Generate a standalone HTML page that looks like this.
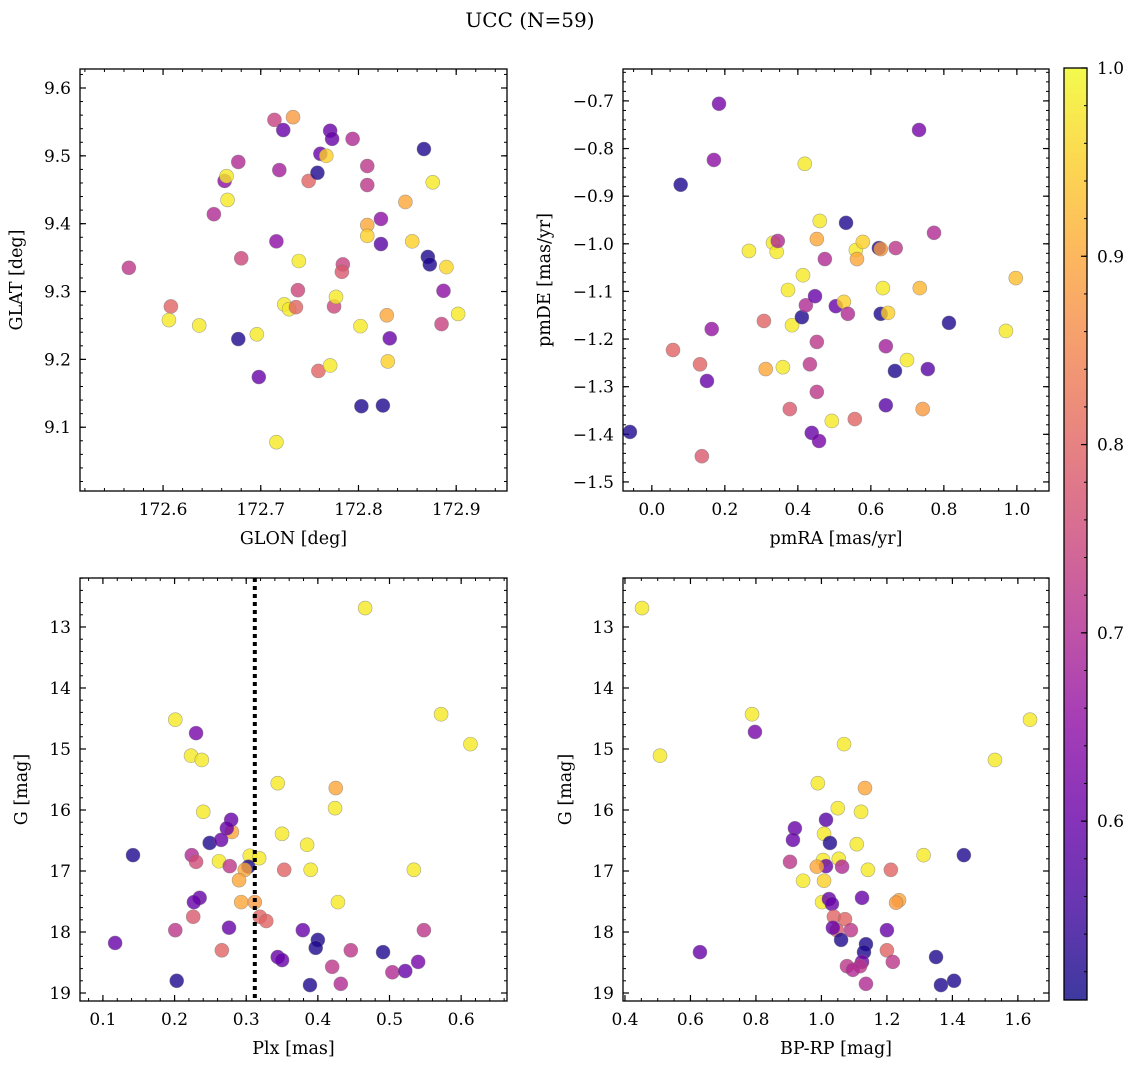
<!DOCTYPE html>
<html><head><meta charset="utf-8"><style>
html,body{margin:0;padding:0;background:#fff;}
svg{display:block;font-family:"DejaVu Serif","Liberation Serif",serif;}
</style></head><body>
<svg id="fig" width="1136" height="1068" viewBox="0 0 1136 1068" xmlns="http://www.w3.org/2000/svg">
<defs>
<linearGradient id="plasma" x1="0" y1="1" x2="0" y2="0">
<stop offset="0" stop-color="#0d0887"/><stop offset="0.1" stop-color="#41049d"/><stop offset="0.2" stop-color="#6a00a8"/><stop offset="0.3" stop-color="#8f0da4"/><stop offset="0.4" stop-color="#b12a90"/><stop offset="0.5" stop-color="#cc4778"/><stop offset="0.6" stop-color="#e16462"/><stop offset="0.7" stop-color="#f2844b"/><stop offset="0.8" stop-color="#fca636"/><stop offset="0.9" stop-color="#fcce25"/><stop offset="1" stop-color="#f0f921"/>
</linearGradient>
</defs>
<text x="530" y="27" font-size="20" text-anchor="middle">UCC (N=59)</text>
</svg>
<script>
// Panel 1: GLON / GLAT
const glon=[172.565,172.608,172.606,172.637,172.652,172.663,172.665,172.666,172.677,172.680,172.677,172.696,172.698,172.714,172.723,172.719,172.716,172.716,172.724,172.729,172.733,172.736,172.738,172.739,172.749,172.758,172.761,172.767,172.771,172.773,172.759,172.771,172.775,172.777,172.784,172.783,172.794,172.803,172.802,172.809,172.809,172.809,172.809,172.823,172.823,172.825,172.829,172.830,172.832,172.848,172.855,172.867,172.871,172.873,172.876,172.887,172.890,172.885,172.902];
const glat=[9.335,9.278,9.258,9.250,9.414,9.463,9.470,9.435,9.491,9.349,9.230,9.237,9.174,9.553,9.538,9.479,9.374,9.078,9.281,9.274,9.557,9.277,9.302,9.345,9.463,9.475,9.503,9.500,9.537,9.525,9.183,9.191,9.278,9.292,9.340,9.329,9.525,9.131,9.249,9.485,9.457,9.398,9.382,9.407,9.370,9.132,9.265,9.197,9.231,9.432,9.374,9.510,9.351,9.340,9.461,9.301,9.336,9.252,9.267];
const prob1=[0.72,0.8,0.98,0.98,0.7,0.65,0.98,0.98,0.7,0.75,0.52,0.98,0.6,0.74,0.6,0.68,0.65,0.98,0.98,0.98,0.88,0.8,0.75,0.98,0.8,0.52,0.6,0.95,0.6,0.6,0.8,0.98,0.75,0.98,0.74,0.78,0.7,0.52,0.98,0.72,0.72,0.9,0.95,0.65,0.58,0.52,0.9,0.95,0.6,0.9,0.95,0.52,0.52,0.52,0.98,0.65,0.96,0.74,0.98];
// Panel 2: pmRA / pmDE
const pmra=[-0.060,0.079,0.184,0.170,0.058,0.132,0.137,0.151,0.164,0.266,0.307,0.312,0.332,0.342,0.345,0.359,0.373,0.378,0.384,0.411,0.414,0.419,0.422,0.433,0.438,0.447,0.452,0.452,0.452,0.458,0.460,0.474,0.493,0.504,0.526,0.532,0.537,0.556,0.559,0.562,0.578,0.622,0.627,0.627,0.633,0.641,0.647,0.641,0.668,0.666,0.699,0.734,0.732,0.742,0.756,0.773,0.814,0.970,0.997];
const pmde=[-1.395,-0.876,-0.706,-0.824,-1.223,-1.253,-1.446,-1.288,-1.179,-1.015,-1.162,-1.263,-0.998,-1.017,-0.994,-1.259,-1.097,-1.347,-1.171,-1.154,-1.066,-0.832,-1.129,-1.253,-1.397,-1.110,-1.206,-1.311,-0.990,-1.414,-0.952,-1.032,-1.372,-1.131,-1.122,-0.956,-1.147,-1.368,-1.013,-1.032,-0.996,-1.009,-1.011,-1.147,-1.093,-1.215,-1.145,-1.339,-1.009,-1.267,-1.244,-1.093,-0.761,-1.347,-1.263,-0.977,-1.166,-1.183,-1.072];
const prob2=[0.52,0.52,0.62,0.65,0.8,0.8,0.78,0.6,0.66,0.98,0.8,0.9,0.98,0.98,0.7,0.98,0.98,0.78,0.98,0.52,0.98,0.98,0.7,0.72,0.6,0.6,0.72,0.72,0.9,0.62,0.98,0.7,0.98,0.6,0.95,0.52,0.7,0.8,0.98,0.9,0.95,0.52,0.88,0.52,0.98,0.68,0.95,0.58,0.72,0.52,0.98,0.92,0.62,0.88,0.58,0.7,0.52,0.98,0.93];
// Panel 3: Plx / G
const plx=[0.466,0.572,0.613,0.201,0.230,0.223,0.238,0.344,0.425,0.424,0.240,0.280,0.279,0.273,0.350,0.385,0.249,0.265,0.142,0.224,0.262,0.230,0.305,0.318,0.303,0.277,0.298,0.353,0.390,0.534,0.290,0.235,0.227,0.293,0.312,0.428,0.319,0.328,0.226,0.276,0.379,0.201,0.548,0.117,0.400,0.397,0.266,0.446,0.491,0.420,0.540,0.344,0.350,0.504,0.522,0.432,0.389,0.203];
const g3=[12.69,14.43,14.92,14.52,14.74,15.11,15.18,15.56,15.64,15.97,16.03,16.36,16.16,16.30,16.39,16.57,16.54,16.49,16.74,16.74,16.84,16.85,16.75,16.79,16.93,16.92,16.98,16.98,16.98,16.98,17.15,17.44,17.51,17.51,17.51,17.51,17.75,17.82,17.75,17.93,17.97,17.97,17.97,18.18,18.13,18.26,18.30,18.30,18.33,18.57,18.49,18.41,18.46,18.66,18.64,18.85,18.87,18.80];
const prob3=[0.98,0.98,0.98,0.98,0.62,0.98,0.98,0.98,0.9,0.98,0.98,0.9,0.6,0.6,0.98,0.98,0.52,0.6,0.52,0.7,0.98,0.76,0.98,0.98,0.52,0.72,0.9,0.8,0.98,0.98,0.9,0.6,0.6,0.9,0.88,0.98,0.8,0.8,0.78,0.6,0.6,0.72,0.72,0.6,0.52,0.52,0.8,0.72,0.52,0.72,0.62,0.6,0.6,0.7,0.6,0.7,0.52,0.52];
const plxLine=[0.312];
// Panel 4: BP-RP / G
const bprp=[0.452,0.788,0.797,1.637,0.507,1.530,1.069,0.989,1.133,1.050,1.121,1.014,0.919,1.008,1.108,1.026,0.913,1.005,1.053,1.063,1.014,0.986,0.904,1.142,1.212,1.312,1.435,0.944,1.008,1.002,1.023,1.032,1.124,1.237,1.228,1.038,1.072,1.047,1.035,1.090,1.200,1.060,1.136,1.130,1.200,0.629,1.124,1.218,1.350,1.118,1.078,1.096,1.136,1.365,1.405];
const g4=[12.69,14.43,14.72,14.52,15.11,15.18,14.92,15.56,15.64,15.97,16.03,16.16,16.30,16.39,16.56,16.54,16.49,16.82,16.80,16.93,16.92,16.93,16.85,16.98,16.98,16.74,16.74,17.16,17.16,17.51,17.46,17.54,17.44,17.48,17.52,17.75,17.79,17.97,17.93,17.97,17.97,18.13,18.20,18.33,18.30,18.33,18.49,18.49,18.41,18.56,18.56,18.62,18.85,18.87,18.80];
const prob4=[0.98,0.98,0.62,0.98,0.98,0.98,0.98,0.98,0.9,0.98,0.98,0.58,0.6,0.98,0.98,0.52,0.6,0.98,0.98,0.7,0.6,0.9,0.72,0.98,0.8,0.98,0.52,0.98,0.95,0.98,0.6,0.6,0.6,0.9,0.88,0.8,0.8,0.78,0.6,0.72,0.6,0.52,0.52,0.52,0.8,0.6,0.62,0.72,0.52,0.72,0.72,0.7,0.7,0.52,0.52];
const cbTicks=[0.6,0.7,0.8,0.9,1.0];
const cbMin=0.505, cbMax=1.0;

const NS="http://www.w3.org/2000/svg";
const svg=document.getElementById('fig');
function mk(tag,attrs,parent){const e=document.createElementNS(NS,tag);for(const k in attrs)e.setAttribute(k,attrs[k]);(parent||svg).appendChild(e);return e;}
const stops=[[0,[13,8,135]],[0.1,[65,4,157]],[0.2,[106,0,168]],[0.3,[143,13,164]],[0.4,[177,42,144]],[0.5,[204,71,120]],[0.6,[225,100,98]],[0.7,[242,132,75]],[0.8,[252,166,54]],[0.9,[252,206,37]],[1,[240,249,33]]];
function plasma(v){let t=(v-cbMin)/(cbMax-cbMin);t=Math.max(0,Math.min(1,t));for(let i=1;i<stops.length;i++){if(t<=stops[i][0]){const a=stops[i-1],b=stops[i];const f=(t-a[0])/(b[0]-a[0]);const c=a[1].map((x,j)=>Math.round(x+(b[1][j]-x)*f));return `rgb(${c[0]},${c[1]},${c[2]})`;}}return 'rgb(240,249,33)';}

function panel(cfg){
  const {x0,x1,y0,y1,xmin,xmax,ymin,ymax,invert,xMaj,xMin,yMaj,yMin,xlabel,ylabel,name,dec,ydec}=cfg;
  const g=mk('g',{});
  
  
  const sx=v=>x0+(v-xmin)/(xmax-xmin)*(x1-x0);
  const sy=v=>invert? y0+(v-ymin)/(ymax-ymin)*(y1-y0) : y1-(v-ymin)/(ymax-ymin)*(y1-y0);
  const step=(a,b,s)=>{const r=[];for(let v=Math.ceil(a/s-1e-6)*s;v<=b+1e-9;v+=s)r.push(+v.toFixed(6));return r;};
  const lo=Math.min(ymin,ymax),hi=Math.max(ymin,ymax);
  step(xmin,xmax,xMin).forEach(v=>{const X=sx(v);mk('line',{x1:X,x2:X,y1:y1,y2:y1-3,stroke:'#000','stroke-width':1},g);mk('line',{x1:X,x2:X,y1:y0,y2:y0+3,stroke:'#000','stroke-width':1},g);});
  step(lo,hi,yMin).forEach(v=>{const Y=sy(v);mk('line',{x1:x0,x2:x0+3,y1:Y,y2:Y,stroke:'#000','stroke-width':1},g);mk('line',{x1:x1,x2:x1-3,y1:Y,y2:Y,stroke:'#000','stroke-width':1},g);});
  step(xmin,xmax,xMaj).forEach(v=>{const X=sx(v);mk('line',{x1:X,x2:X,y1:y1,y2:y1-6,stroke:'#000','stroke-width':1.2},g);mk('line',{x1:X,x2:X,y1:y0,y2:y0+6,stroke:'#000','stroke-width':1.2},g);
    const t=mk('text',{x:X,y:y1+24,'font-size':17,'text-anchor':'middle'},g);t.textContent=v.toFixed(dec);
    });
  step(lo,hi,yMaj).forEach(v=>{const Y=sy(v);mk('line',{x1:x0,x2:x0+6,y1:Y,y2:Y,stroke:'#000','stroke-width':1.2},g);mk('line',{x1:x1,x2:x1-6,y1:Y,y2:Y,stroke:'#000','stroke-width':1.2},g);
    const t=mk('text',{x:x0-9,y:Y+6,'font-size':17,'text-anchor':'end'},g);t.textContent=(v<0?'\u2212':'')+Math.abs(v).toFixed(ydec);
    });
  const xl=mk('text',{x:(x0+x1)/2,y:y1+53,'font-size':17.5,'text-anchor':'middle'},g);xl.textContent=xlabel;
  
  const yx=cfg.ylx;
  const yl=mk('text',{x:yx,y:(y0+y1)/2,'font-size':17.5,'text-anchor':'middle',transform:`rotate(-90 ${yx} ${(y0+y1)/2})`},g);yl.textContent=ylabel;
  
  const pg=mk('g',{},g);
  cfg.xs.forEach((xv,i)=>{const c=mk('circle',{cx:sx(xv),cy:sy(cfg.ys[i]),r:7,fill:plasma(cfg.ps[i]),'fill-opacity':0.8,stroke:'#777','stroke-opacity':0.6,'stroke-width':0.6},pg);
    });
  if(cfg.vline){cfg.vline.forEach(v=>{const l=mk('line',{x1:sx(v),x2:sx(v),y1:y0,y2:y1,stroke:'#000','stroke-width':4,'stroke-dasharray':'4 4'},g);
    });}
  const fr=mk('rect',{x:x0,y:y0,width:x1-x0,height:y1-y0,fill:'none',stroke:'#000','stroke-width':1.3},g);
  
}
panel({name:'glon-glat-panel',x0:80,x1:507,y0:69,y1:491,xmin:172.515,xmax:172.952,ymin:9.006,ymax:9.628,xMaj:0.1,xMin:0.02,yMaj:0.1,yMin:0.02,dec:1,ydec:1,xlabel:'GLON [deg]',ylabel:'GLAT [deg]',ylx:22,xs:glon,ys:glat,ps:prob1});
panel({name:'pm-panel',x0:623,x1:1049,y0:69,y1:491,xmin:-0.079,xmax:1.088,ymin:-1.519,ymax:-0.633,xMaj:0.2,xMin:0.05,yMaj:0.1,yMin:0.02,dec:1,ydec:1,xlabel:'pmRA [mas/yr]',ylabel:'pmDE [mas/yr]',ylx:550,xs:pmra,ys:pmde,ps:prob2});
panel({name:'plx-g-panel',x0:80,x1:507,y0:578,y1:1001,xmin:0.068,xmax:0.664,ymin:12.197,ymax:19.131,invert:true,xMaj:0.1,xMin:0.02,yMaj:1,yMin:0.2,dec:1,ydec:0,xlabel:'Plx [mas]',ylabel:'G [mag]',ylx:27,xs:plx,ys:g3,ps:prob3,vline:plxLine});
panel({name:'cmd-panel',x0:623,x1:1049,y0:578,y1:1001,xmin:0.394,xmax:1.695,ymin:12.197,ymax:19.131,invert:true,xMaj:0.2,xMin:0.05,yMaj:1,yMin:0.2,dec:1,ydec:0,xlabel:'BP-RP [mag]',ylabel:'G [mag]',ylx:571,xs:bprp,ys:g4,ps:prob4});
// colorbar
const cb=mk('g',{});


const cy0=68,cy1=1000,cx0=1064,cx1=1087;
mk('rect',{x:cx0,y:cy0,width:cx1-cx0,height:cy1-cy0,fill:'url(#plasma)','fill-opacity':0.8},cb);
const cys=v=>cy1-(v-cbMin)/(cbMax-cbMin)*(cy1-cy0);
for(let v=0.52;v<=1.0001;v+=0.02){const Y=cys(v);mk('line',{x1:cx1,x2:cx1-3,y1:Y,y2:Y,stroke:'#000','stroke-width':1},cb);}
cbTicks.forEach(v=>{const Y=cys(v);mk('line',{x1:cx1,x2:cx1-6,y1:Y,y2:Y,stroke:'#000','stroke-width':1.2},cb);
  const t=mk('text',{x:cx1+10,y:Y+6,'font-size':17},cb);t.textContent=v.toFixed(1);
  });
mk('rect',{x:cx0,y:cy0,width:cx1-cx0,height:cy1-cy0,fill:'none',stroke:'#000','stroke-width':1.3},cb);
</script>
</body></html>
